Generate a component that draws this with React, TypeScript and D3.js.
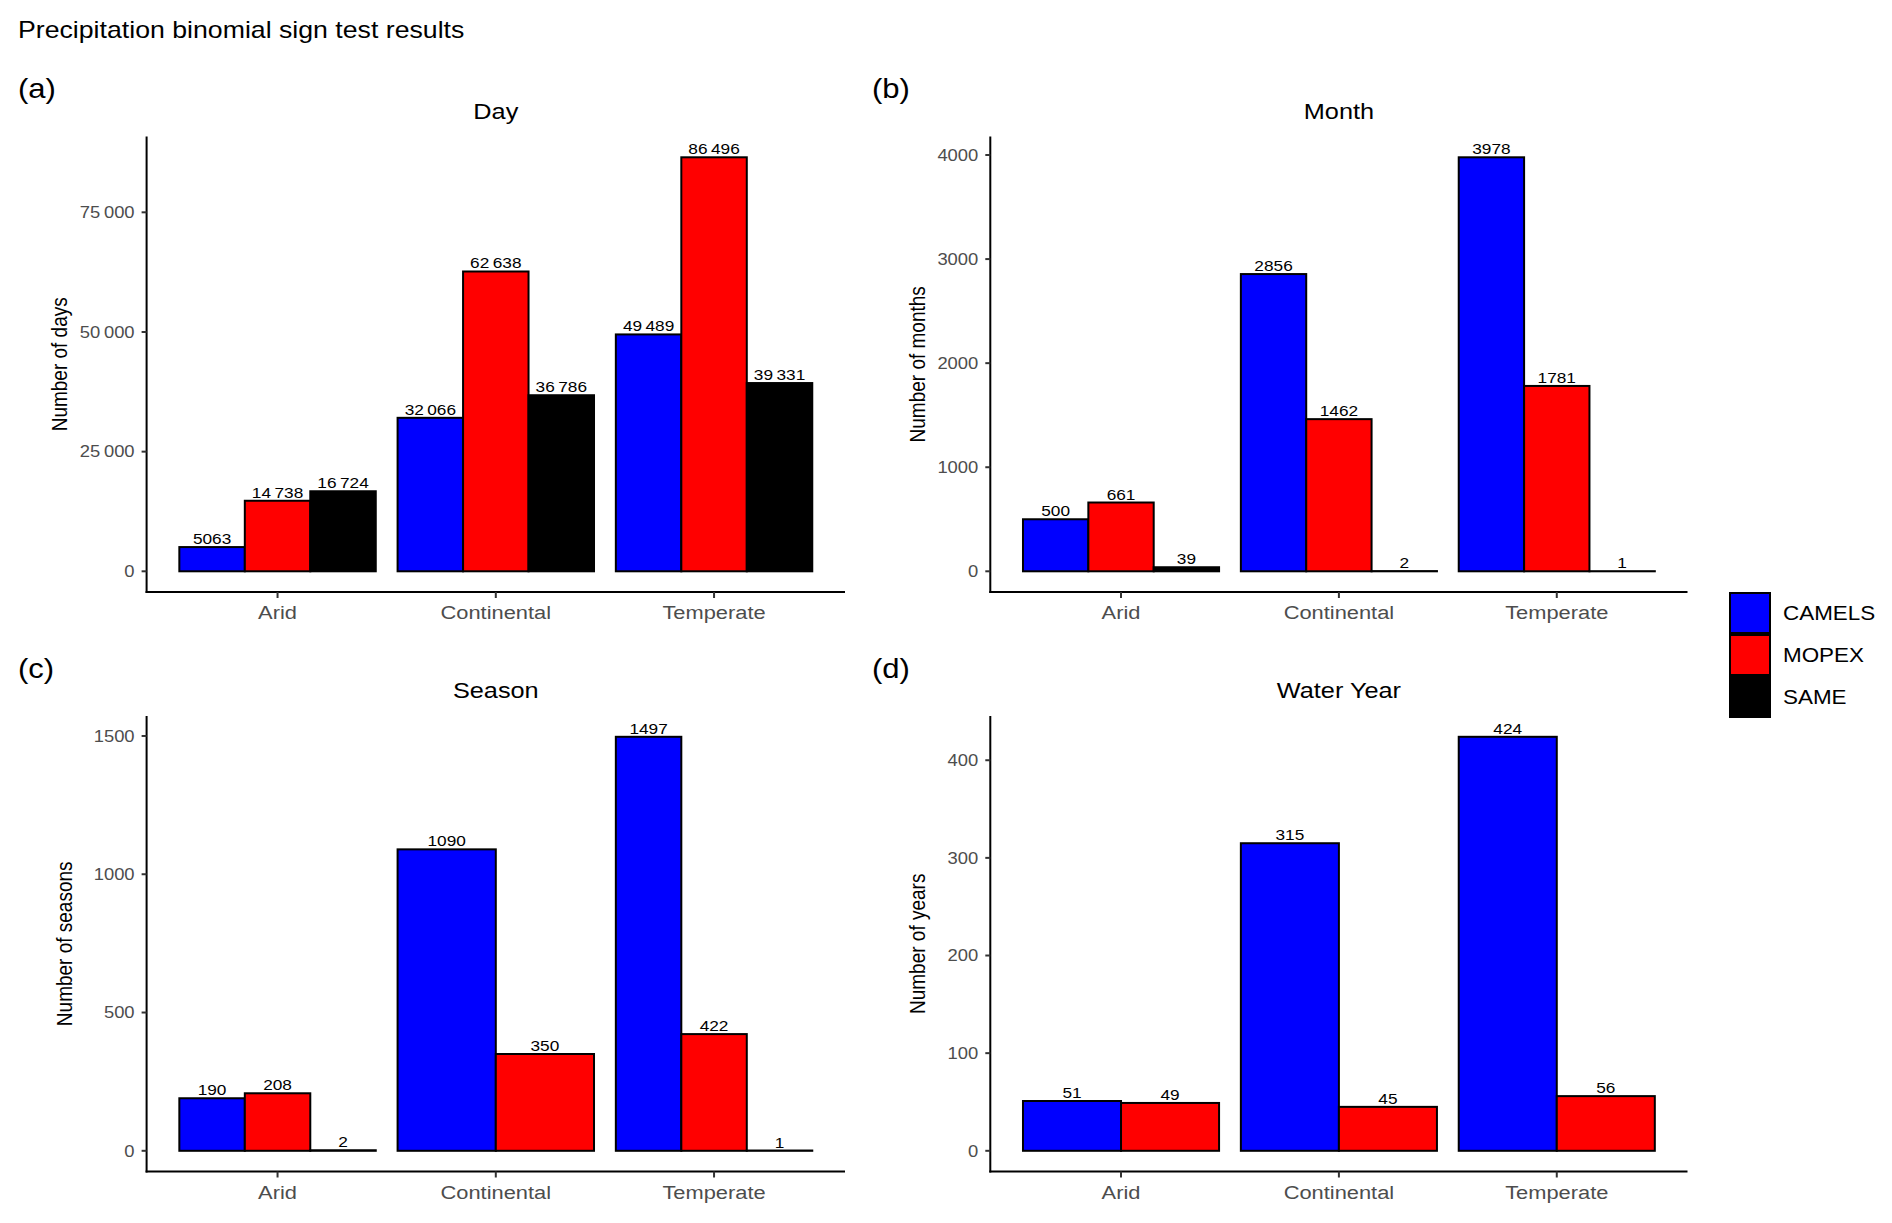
import React from "react";
import * as d3 from "d3";

// ---------- DATA ----------
const categories = ["Arid", "Continental", "Temperate"];
const seriesNames = ["CAMELS", "MOPEX", "SAME"];
const seriesColors = ["#0000FF", "#FF0000", "#000000"];

const dayCamels = [5063, 32066, 49489];
const dayMopex = [14738, 62638, 86496];
const daySame = [16724, 36786, 39331];
const dayTicks = [0, 25000, 50000, 75000];

const monthCamels = [500, 2856, 3978];
const monthMopex = [661, 1462, 1781];
const monthSame = [39, 2, 1];
const monthTicks = [0, 1000, 2000, 3000, 4000];

const seasonCamels = [190, 1090, 1497];
const seasonMopex = [208, 350, 422];
const seasonSame: (number | null)[] = [2, null, 1];
const seasonTicks = [0, 500, 1000, 1500];

const yearCamels = [51, 315, 424];
const yearMopex = [49, 45, 56];
const yearSame: (number | null)[] = [null, null, null];
const yearTicks = [0, 100, 200, 300, 400];

const mainTitle = "Precipitation binomial sign test results";

// ---------- STYLE / LAYOUT ----------
const W = 1892;
const H = 1223;
const SX = 1.15;
const FONT = '"Liberation Sans", Arial, Helvetica, sans-serif';
const ROW2 = 579.5;

type PanelCfg = {
  label: string;
  title: string;
  yTitle: string;
  series: (number | null)[][];
  ticks: number[];
  x0: number;
  x1: number;
  top: number;
  bottom: number;
  labelX: number;
  labelY: number;
  titleY: number;
  yTitleX: number;
};

const panels: PanelCfg[] = [
  {
    label: "(a)", title: "Day", yTitle: "Number of days",
    series: [dayCamels, dayMopex, daySame], ticks: dayTicks,
    x0: 146.6, x1: 845, top: 136.6, bottom: 592,
    labelX: 18, labelY: 98, titleY: 118.6, yTitleX: 67,
  },
  {
    label: "(b)", title: "Month", yTitle: "Number of months",
    series: [monthCamels, monthMopex, monthSame], ticks: monthTicks,
    x0: 990.3, x1: 1687.5, top: 136.6, bottom: 592,
    labelX: 872, labelY: 98, titleY: 118.6, yTitleX: 925,
  },
  {
    label: "(c)", title: "Season", yTitle: "Number of seasons",
    series: [seasonCamels, seasonMopex, seasonSame], ticks: seasonTicks,
    x0: 146.6, x1: 845, top: 136.6 + ROW2, bottom: 592 + ROW2,
    labelX: 18, labelY: 98 + ROW2, titleY: 118.6 + ROW2, yTitleX: 72,
  },
  {
    label: "(d)", title: "Water Year", yTitle: "Number of years",
    series: [yearCamels, yearMopex, yearSame], ticks: yearTicks,
    x0: 990.3, x1: 1687.5, top: 136.6 + ROW2, bottom: 592 + ROW2,
    labelX: 872, labelY: 98 + ROW2, titleY: 118.6 + ROW2, yTitleX: 925,
  },
];

function fmt(v: number): string {
  return v >= 10000 ? d3.format(",")(v).replace(/,/g, "\u2009") : String(v);
}

type TProps = {
  x: number;
  y: number;
  size: number;
  anchor?: "start" | "middle" | "end";
  fill?: string;
  rotate?: boolean;
  children: React.ReactNode;
};

function T({ x, y, size, anchor = "start", fill = "#000", rotate = false, children }: TProps) {
  const tr = `translate(${x},${y}) scale(${SX},1)` + (rotate ? " rotate(-90)" : "");
  return (
    <text transform={tr} fontSize={size} textAnchor={anchor} fill={fill} fontFamily={FONT}>
      {children}
    </text>
  );
}

function Panel({ p }: { p: PanelCfg }) {
  const x = d3.scaleLinear().domain([0.4, categories.length + 0.6]).range([p.x0, p.x1]);
  const all = p.series.flat().filter((v): v is number => v !== null);
  const maxV = d3.max(all) ?? 1;
  const y = d3.scaleLinear().domain([-0.05 * maxV, 1.05 * maxV]).range([p.bottom, p.top]);

  const bars: React.ReactNode[] = [];
  const labels: React.ReactNode[] = [];
  categories.forEach((cat, i) => {
    const present = seriesNames.filter((_, s) => p.series[s][i] !== null);
    const band = d3
      .scaleBand<string>()
      .domain(present)
      .range([x(i + 1 - 0.45), x(i + 1 + 0.45)])
      .paddingInner(0)
      .paddingOuter(0);
    present.forEach((name) => {
      const s = seriesNames.indexOf(name);
      const v = p.series[s][i] as number;
      const bx = band(name) as number;
      const bw = band.bandwidth();
      bars.push(
        <rect
          key={`${cat}-${name}`}
          x={bx}
          y={y(v)}
          width={bw}
          height={y(0) - y(v)}
          fill={seriesColors[s]}
          stroke="#000"
          strokeWidth={2}
        />
      );
      labels.push(
        <T key={`l-${cat}-${name}`} x={bx + bw / 2} y={y(v) - 3} size={15} anchor="middle">
          {fmt(v)}
        </T>
      );
    });
  });

  return (
    <g>
      <T x={p.labelX} y={p.labelY} size={27}>{p.label}</T>
      <T x={(p.x0 + p.x1) / 2} y={p.titleY} size={22} anchor="middle">{p.title}</T>
      {bars}
      {labels}
      {/* y axis */}
      <line x1={p.x0} x2={p.x0} y1={p.top} y2={p.bottom + 1} stroke="#000" strokeWidth={2} />
      {p.ticks.map((t) => (
        <g key={`yt-${t}`}>
          <line x1={p.x0 - 5} x2={p.x0} y1={y(t)} y2={y(t)} stroke="#333" strokeWidth={2} />
          <T x={p.x0 - 12} y={y(t) + 5.7} size={16} anchor="end" fill="#4D4D4D">{fmt(t)}</T>
        </g>
      ))}
      {/* x axis */}
      <line x1={p.x0 - 1} x2={p.x1} y1={p.bottom} y2={p.bottom} stroke="#000" strokeWidth={2} />
      {categories.map((c, i) => (
        <g key={`xt-${c}`}>
          <line x1={x(i + 1)} x2={x(i + 1)} y1={p.bottom} y2={p.bottom + 6} stroke="#333" strokeWidth={2} />
          <T x={x(i + 1)} y={p.bottom + 27} size={19} anchor="middle" fill="#4D4D4D">{c}</T>
        </g>
      ))}
      <T x={p.yTitleX} y={(p.top + p.bottom) / 2} size={19} anchor="middle" rotate>
        {p.yTitle}
      </T>
    </g>
  );
}

function Legend() {
  const lx = 1730;
  const ly = 592;
  const kh = 42;
  return (
    <g>
      {seriesNames.map((n, i) => (
        <g key={n}>
          <rect x={lx} y={ly + i * kh + 1} width={40} height={kh - 2} fill={seriesColors[i]} stroke="#000" strokeWidth={2} />
          <T x={lx + 53} y={ly + i * kh + kh / 2 + 7} size={19.5}>{n}</T>
        </g>
      ))}
    </g>
  );
}

export default function App() {
  return (
    <svg
      width={W}
      height={H}
      viewBox={`0 0 ${W} ${H}`}
      style={{ position: "absolute", left: 0, top: 0, background: "#fff" }}
    >
      <rect x={0} y={0} width={W} height={H} fill="#fff" />
      <T x={18} y={38} size={23.2}>{mainTitle}</T>
      {panels.map((p) => (
        <Panel key={p.label} p={p} />
      ))}
      <Legend />
    </svg>
  );
}
